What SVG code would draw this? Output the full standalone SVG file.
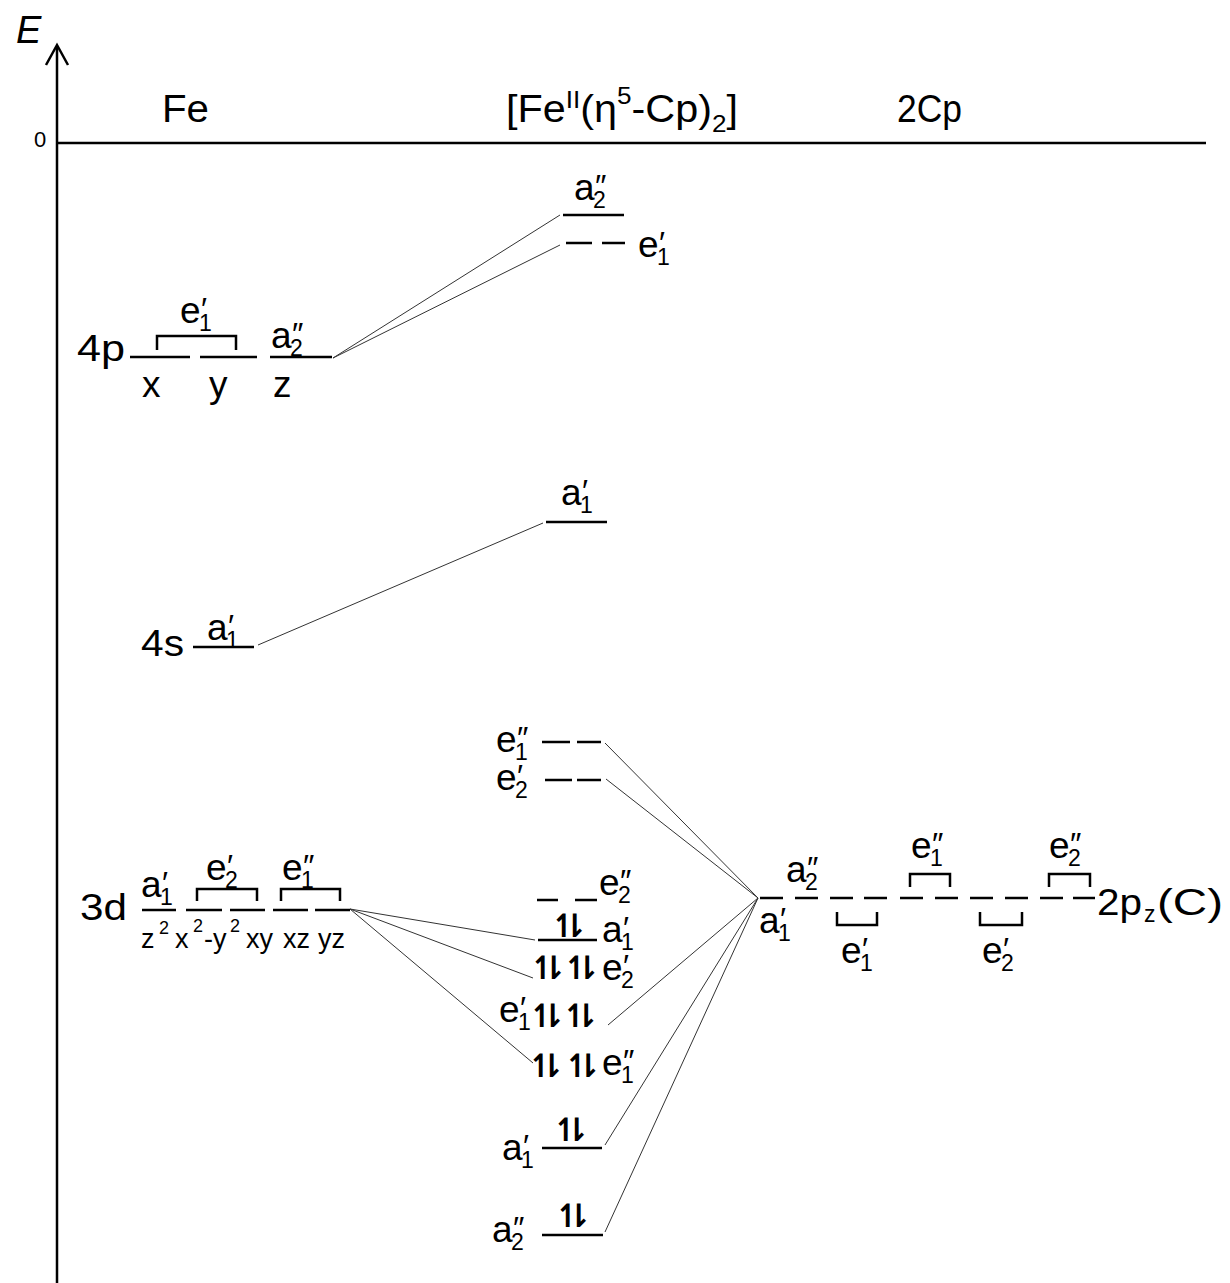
<svg xmlns="http://www.w3.org/2000/svg" width="1230" height="1283" viewBox="0 0 1230 1283">
<style>
text{font-family:"Liberation Sans","DejaVu Sans",Arial,sans-serif;fill:#000}
.lb{font-size:37px}
.sb{font-size:23px}
.pr{font-size:32px}
.ttl{font-size:38px}
.sm{font-size:27px}
.sup{font-size:18px}
.spin{font-family:"DejaVu Sans",sans-serif;font-size:32px;font-weight:bold;letter-spacing:-15.8px}
.lv{stroke:#000;stroke-width:2.5;fill:none}
.cn{stroke:#333;stroke-width:1;fill:none}
.ax{stroke:#000;stroke-width:2.5;fill:none}
</style>
<g id="axes">
<line class="ax" x1="57" y1="1283" x2="57" y2="46"/>
<polyline class="ax" points="46,65 57,45 68,65"/>
<line class="ax" x1="57" y1="143" x2="1206" y2="143"/>
<text x="16" y="43" style="font-size:38px;font-style:italic">E</text>
<text x="34" y="147" style="font-size:22px">0</text>
</g>
<g id="titles">
<text class="ttl" x="162" y="122" textLength="47" lengthAdjust="spacingAndGlyphs">Fe</text>
<text class="ttl" x="506" y="122" textLength="232" lengthAdjust="spacingAndGlyphs">[Fe<tspan style="font-size:24px" dy="-14">II</tspan><tspan dy="14">(η</tspan><tspan style="font-size:24px" dy="-18">5</tspan><tspan dy="18">-Cp)</tspan><tspan style="font-size:24px" dy="10">2</tspan><tspan dy="-10">]</tspan></text>
<text class="ttl" x="897" y="122" textLength="65" lengthAdjust="spacingAndGlyphs">2Cp</text>
</g>
<g id="connectors">
<line class="cn" x1="333" y1="358" x2="560" y2="215"/>
<line class="cn" x1="333" y1="358" x2="560" y2="245"/>
<line class="cn" x1="258" y1="645" x2="543" y2="523"/>
<line class="cn" x1="605" y1="743" x2="758" y2="898"/>
<line class="cn" x1="606" y1="779" x2="758" y2="898"/>
<line class="cn" x1="350" y1="909" x2="535" y2="940"/>
<line class="cn" x1="350" y1="909" x2="533" y2="978"/>
<line class="cn" x1="350" y1="909" x2="533" y2="1063"/>
<line class="cn" x1="758" y1="898" x2="608" y2="1025"/>
<line class="cn" x1="758" y1="898" x2="605" y2="1145"/>
<line class="cn" x1="758" y1="898" x2="605" y2="1232"/>
</g>
<g id="fe-4p">
<text class="lb" x="77" y="361" textLength="48" lengthAdjust="spacingAndGlyphs">4p</text>
<path class="lv" d="M130,357H190M200,357H257M270,357H332"/>
<path class="lv" d="M157,350V336H236V350"/>
<text class="lb" x="180" y="323">e<tspan class="sb" x="199" y="331">1</tspan><tspan class="pr" x="201" y="320">′</tspan></text>
<text class="lb" x="271" y="348">a<tspan class="sb" x="290" y="356">2</tspan><tspan class="pr" x="292" y="345">″</tspan></text>
<text class="lb" x="142" y="397">x</text>
<text class="lb" x="209" y="397">y</text>
<text class="lb" x="273" y="397">z</text>
</g>
<g id="fe-4s">
<text class="lb" x="141" y="656" textLength="43" lengthAdjust="spacingAndGlyphs">4s</text>
<path class="lv" d="M193,647H254"/>
<text class="lb" x="207" y="640">a<tspan class="sb" x="226" y="648">1</tspan><tspan class="pr" x="228" y="637">′</tspan></text>
</g>
<g id="fe-3d">
<text class="lb" x="80" y="920" textLength="47" lengthAdjust="spacingAndGlyphs">3d</text>
<path class="lv" d="M142,910H176M186,910H222M230,910H265M273,910H308M315,910H350"/>
<path class="lv" d="M197,901V889H257V901M281,901V889H340V901"/>
<text class="lb" x="141" y="897">a<tspan class="sb" x="160" y="905">1</tspan><tspan class="pr" x="162" y="894">′</tspan></text>
<text class="lb" x="206" y="880">e<tspan class="sb" x="225" y="888">2</tspan><tspan class="pr" x="227" y="877">′</tspan></text>
<text class="lb" x="282" y="880">e<tspan class="sb" x="301" y="888">1</tspan><tspan class="pr" x="303" y="877">″</tspan></text>
<text class="sm" x="141" y="948">z<tspan class="sup" x="159" y="934">2</tspan></text>
<text class="sm" x="175" y="948">x<tspan class="sup" x="193" y="932">2</tspan><tspan x="204" y="948">-y</tspan><tspan class="sup" x="230" y="932">2</tspan></text>
<text class="sm" x="246" y="948">xy</text>
<text class="sm" x="283" y="948">xz</text>
<text class="sm" x="318" y="948">yz</text>
</g>
<g id="cplx-a2pp-top">
<path class="lv" d="M563,215H624"/>
<text class="lb" x="574" y="200">a<tspan class="sb" x="593" y="208">2</tspan><tspan class="pr" x="595" y="197">″</tspan></text>
</g>
<g id="cplx-e1p-top">
<path class="lv" d="M566,243H592M602,243H625"/>
<text class="lb" x="638" y="257">e<tspan class="sb" x="657" y="265">1</tspan><tspan class="pr" x="659" y="254">′</tspan></text>
</g>
<g id="cplx-a1p-4s">
<path class="lv" d="M546,522H607"/>
<text class="lb" x="561" y="505">a<tspan class="sb" x="580" y="513">1</tspan><tspan class="pr" x="582" y="502">′</tspan></text>
</g>
<g id="cplx-e1pp-up">
<path class="lv" d="M542,742H570M577,742H601"/>
<text class="lb" x="496" y="752">e<tspan class="sb" x="515" y="760">1</tspan><tspan class="pr" x="517" y="749">″</tspan></text>
</g>
<g id="cplx-e2p-up">
<path class="lv" d="M545,780H572M577,780H601"/>
<text class="lb" x="496" y="790">e<tspan class="sb" x="515" y="798">2</tspan><tspan class="pr" x="517" y="787">′</tspan></text>
</g>
<g id="cplx-e2pp">
<path class="lv" d="M537,900H558M575,900H597"/>
<text class="lb" x="599" y="895">e<tspan class="sb" x="618" y="903">2</tspan><tspan class="pr" x="620" y="892">″</tspan></text>
</g>
<g id="cplx-a1p">
<path class="lv" d="M538,940H597"/>
<text class="spin" x="550.6" y="937">↿⇂</text>
<text class="lb" x="602" y="942">a<tspan class="sb" x="621" y="950">1</tspan><tspan class="pr" x="623" y="939">′</tspan></text>
</g>
<g id="cplx-e2p">
<text class="spin" x="529.6" y="979">↿⇂<tspan dx="11.4">↿⇂</tspan></text>
<text class="lb" x="602" y="980">e<tspan class="sb" x="621" y="988">2</tspan><tspan class="pr" x="623" y="977">′</tspan></text>
</g>
<g id="cplx-e1p">
<text class="lb" x="499" y="1022">e<tspan class="sb" x="518" y="1030">1</tspan><tspan class="pr" x="520" y="1019">′</tspan></text>
<text class="spin" x="528.6" y="1027">↿⇂<tspan dx="11.4">↿⇂</tspan></text>
</g>
<g id="cplx-e1pp">
<text class="spin" x="527.6" y="1077">↿⇂<tspan dx="14.4">↿⇂</tspan></text>
<text class="lb" x="602" y="1075">e<tspan class="sb" x="621" y="1083">1</tspan><tspan class="pr" x="623" y="1072">″</tspan></text>
</g>
<g id="cplx-a1p-low">
<path class="lv" d="M542,1148H602"/>
<text class="spin" x="552.6" y="1141">↿⇂</text>
<text class="lb" x="502" y="1160">a<tspan class="sb" x="521" y="1168">1</tspan><tspan class="pr" x="523" y="1157">′</tspan></text>
</g>
<g id="cplx-a2pp-low">
<path class="lv" d="M542,1235H603"/>
<text class="spin" x="554.6" y="1227">↿⇂</text>
<text class="lb" x="492" y="1242">a<tspan class="sb" x="511" y="1250">2</tspan><tspan class="pr" x="513" y="1239">″</tspan></text>
</g>
<g id="cp-2pz">
<path class="lv" d="M760,898H783M795,898H818M830,898H853M864,898H887M900,898H923M935,898H958M970,898H993M1005,898H1028M1040,898H1063M1073,898H1095"/>
<path class="lv" d="M837,912V925H877V912M980,912V925H1022V912M910,887V874H950V887M1049,887V874H1090V887"/>
<text class="lb" x="786" y="882">a<tspan class="sb" x="805" y="890">2</tspan><tspan class="pr" x="807" y="879">″</tspan></text>
<text class="lb" x="759" y="933">a<tspan class="sb" x="778" y="941">1</tspan><tspan class="pr" x="780" y="930">′</tspan></text>
<text class="lb" x="841" y="963">e<tspan class="sb" x="860" y="971">1</tspan><tspan class="pr" x="862" y="960">′</tspan></text>
<text class="lb" x="911" y="858">e<tspan class="sb" x="930" y="866">1</tspan><tspan class="pr" x="932" y="855">″</tspan></text>
<text class="lb" x="982" y="963">e<tspan class="sb" x="1001" y="971">2</tspan><tspan class="pr" x="1003" y="960">′</tspan></text>
<text class="lb" x="1049" y="858">e<tspan class="sb" x="1068" y="866">2</tspan><tspan class="pr" x="1070" y="855">″</tspan></text>
<text class="lb" x="1097" y="915"><tspan textLength="45" lengthAdjust="spacingAndGlyphs">2p</tspan><tspan class="sb" x="1144" y="922">z</tspan><tspan x="1157" y="915" textLength="66" lengthAdjust="spacingAndGlyphs">(C)</tspan></text>
</g>
</svg>
